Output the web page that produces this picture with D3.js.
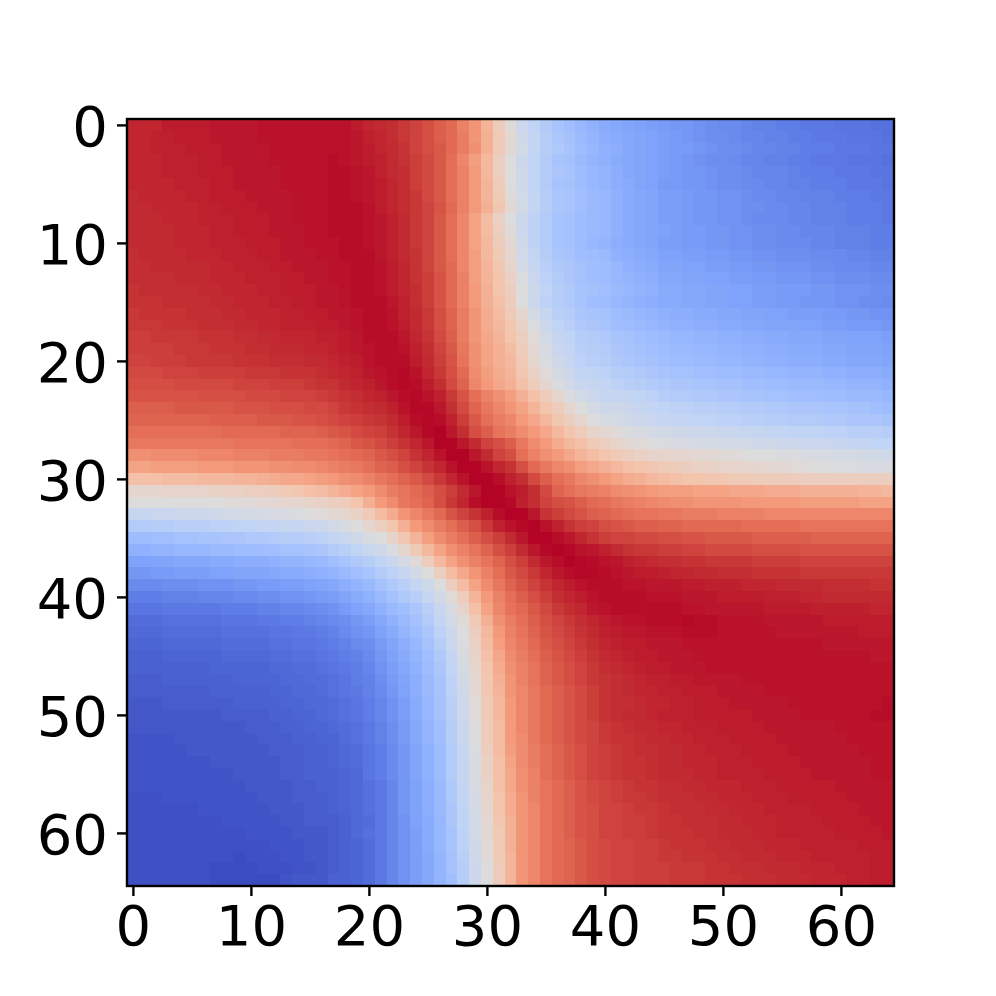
<!DOCTYPE html>
<html>
<head>
<meta charset="utf-8">
<script src="https://cdn.jsdelivr.net/npm/d3@7"></script>
<style>
html,body{margin:0;padding:0;background:#fff;}
svg{display:block;}
text{font-family:"DejaVu Sans";}
</style>
</head>
<body>
<svg id="chart" width="996" height="996"></svg>
<script>
const tickLabels = [0,10,20,30,40,50,60];
const colorDomain = [0,10,20,30,40,50,60,70,80,90,100];
const colorStops = ["#3b4cc0","#5875e1","#7b9ff9","#9ebdff","#c0d4f5","#dddcdc","#f4c5ad","#f49a7b","#e26952","#c53334","#b40426"];
const heatValues = [
[93,93,93,95,95,95,95,96,96,96,96,97,97,97,97,97,97,97,97,95,93,92,91,89,87,85,82,80,75,71,64,57,51,44,40,36,33,31,28,26,24,23,22,21,20,19,18,18,17,16,15,15,14,13,13,12,12,11,11,11,10,10,10,9,9],
[93,93,94,94,95,95,95,96,96,96,96,97,97,97,97,97,97,97,97,96,94,93,91,89,87,85,82,80,76,71,65,58,52,45,41,37,34,32,29,27,25,24,23,22,21,20,19,18,17,16,16,15,14,14,13,13,12,12,11,11,11,10,10,10,9],
[93,93,94,94,94,95,95,95,96,96,96,96,97,97,97,97,97,97,97,96,95,93,92,90,87,85,83,80,76,72,65,58,52,46,41,37,35,33,30,28,26,25,23,22,21,20,19,19,18,17,16,16,15,14,14,13,13,12,12,12,11,11,11,10,10],
[93,93,93,94,94,94,95,95,96,96,96,96,97,97,97,97,97,98,97,96,95,94,92,90,88,86,83,79,74,69,63,56,50,44,40,36,33,32,29,27,26,24,23,22,21,20,19,18,17,16,16,15,14,14,13,13,12,12,11,11,11,10,10,10,9],
[93,93,93,94,94,94,95,95,95,96,96,96,96,97,97,97,97,98,98,97,96,94,92,91,88,86,83,79,75,70,63,56,50,45,40,36,34,33,30,28,27,25,23,22,21,20,19,18,18,17,16,16,15,14,14,14,13,12,12,12,11,11,11,10,10],
[93,93,93,93,94,94,94,95,95,96,96,96,96,97,97,97,97,98,98,97,96,95,93,91,88,86,83,79,75,70,64,57,50,45,40,36,33,32,30,28,27,25,24,22,21,19,19,18,18,17,16,16,15,15,14,14,13,13,12,12,12,11,11,11,10],
[92,93,93,93,93,94,94,95,95,95,96,96,96,96,97,97,97,98,98,97,96,95,93,91,89,86,83,79,75,70,64,58,51,46,41,37,34,33,31,29,28,26,24,23,22,20,20,19,18,18,17,17,16,15,15,14,14,13,13,13,12,12,12,11,11],
[92,92,93,93,93,93,94,94,95,95,95,96,96,96,97,97,97,98,98,98,97,95,93,91,89,87,84,80,75,70,65,59,52,46,41,37,34,33,31,29,28,26,24,23,22,20,20,19,18,18,17,17,16,16,15,15,14,14,13,13,13,12,12,12,11],
[92,92,92,93,93,93,94,94,94,95,95,95,96,96,97,97,97,98,98,98,97,96,94,92,89,87,83,79,74,68,62,55,50,44,39,36,33,32,30,29,28,26,24,23,22,20,20,19,18,18,17,17,16,15,15,15,14,14,13,13,13,12,12,12,11],
[92,92,92,92,93,93,93,94,94,95,95,95,96,96,96,97,97,98,98,98,97,96,94,92,89,87,83,79,74,68,62,56,51,44,39,36,33,32,30,29,28,26,24,23,22,21,20,19,19,18,18,17,17,16,16,15,15,14,14,14,13,13,13,12,12],
[92,92,92,92,93,93,93,94,94,94,95,95,95,96,96,97,97,97,98,98,97,96,94,92,89,87,83,79,74,68,63,57,52,45,39,36,33,32,30,28,27,25,24,23,22,20,20,19,19,18,18,17,17,16,16,15,15,15,14,14,13,13,13,12,12],
[91,92,92,92,92,93,93,93,94,94,94,95,95,96,96,96,97,97,98,98,98,96,94,92,90,87,83,79,74,69,63,58,53,46,41,37,34,33,31,30,29,26,25,24,23,21,21,20,20,19,19,18,18,17,17,16,16,16,15,15,15,14,14,13,13],
[91,91,92,92,92,92,92,93,93,94,94,94,95,95,96,96,96,97,97,98,98,97,95,93,90,87,83,80,74,69,64,59,54,47,42,38,35,34,32,31,30,28,26,25,24,22,22,21,21,20,20,19,19,18,18,17,17,17,16,16,15,15,15,14,14],
[91,91,91,91,92,92,92,93,93,93,94,94,94,95,95,96,96,97,97,98,98,97,95,93,90,88,84,80,75,69,64,60,55,49,43,39,36,34,32,31,30,28,27,26,25,23,23,22,22,21,21,20,20,19,19,18,18,18,17,17,16,16,16,15,15],
[90,91,91,91,91,91,92,92,93,93,93,94,94,95,95,95,96,96,97,98,98,97,95,93,91,88,84,80,75,70,65,60,56,50,44,40,37,35,33,32,31,29,28,27,26,24,24,23,23,22,22,21,21,20,20,19,19,19,18,18,17,17,17,16,16],
[90,90,90,91,91,91,91,92,92,93,93,93,94,94,95,95,96,96,97,98,98,98,96,94,91,88,84,80,75,70,65,61,57,50,44,39,37,35,33,31,30,28,27,26,25,24,24,23,23,22,22,21,21,20,20,19,19,18,18,18,17,17,16,16,15],
[89,90,90,90,90,91,91,91,92,92,93,93,93,94,94,95,95,96,96,97,98,98,97,94,92,89,85,81,76,71,66,62,58,53,47,42,38,37,34,33,32,30,29,28,27,26,25,25,24,24,23,23,22,22,21,21,20,20,20,19,19,18,18,17,17],
[89,89,89,90,90,90,91,91,91,92,92,93,93,94,94,94,95,95,96,97,98,98,97,95,92,89,85,81,76,71,66,63,59,55,49,44,40,38,35,34,33,31,30,29,28,27,26,26,25,25,24,24,23,23,22,22,22,21,21,20,20,19,19,19,18],
[88,88,89,89,89,89,90,90,90,91,91,92,92,93,93,93,94,94,95,96,98,98,98,96,93,90,86,82,76,71,67,64,60,56,51,46,42,40,37,36,35,33,32,31,30,29,28,28,27,27,26,26,25,25,24,24,23,23,23,22,22,21,21,21,20],
[88,88,88,88,89,89,89,90,90,90,91,91,92,92,92,93,93,94,95,96,97,98,98,97,94,91,87,83,77,72,68,65,62,57,52,48,43,41,38,37,36,34,33,32,31,30,29,29,28,28,27,27,26,26,25,25,24,24,24,23,23,22,22,22,21],
[87,87,88,88,88,89,89,89,89,90,90,90,91,91,91,92,92,93,94,95,97,98,98,98,95,92,88,84,78,72,68,65,63,58,53,49,45,42,39,38,37,35,34,33,32,31,30,30,29,29,28,28,27,27,26,26,25,25,25,24,24,23,23,23,22],
[86,86,86,87,87,87,88,88,88,88,89,89,89,90,90,90,91,92,93,94,96,97,98,99,97,93,89,85,80,73,69,66,64,59,55,51,47,44,41,40,39,37,36,35,34,33,32,32,31,31,30,30,29,29,28,28,27,27,27,26,26,25,25,25,24],
[85,85,85,85,86,86,86,86,86,87,87,87,88,88,88,89,90,90,92,93,94,96,98,99,98,95,91,86,81,74,70,67,65,61,57,53,49,46,43,42,41,39,38,37,36,35,34,34,33,33,32,32,31,31,30,30,29,29,29,28,28,27,27,27,26],
[84,84,84,84,84,84,85,85,85,85,86,86,86,87,87,87,88,89,90,91,93,94,96,98,99,97,94,89,84,79,75,72,69,65,61,57,53,49,46,44,42,42,41,40,39,37,36,36,35,35,34,34,33,33,32,32,31,31,31,30,30,29,29,29,28],
[82,82,82,82,83,83,83,83,83,84,84,84,85,85,85,86,86,87,89,90,91,92,94,97,99,99,96,91,86,81,77,74,71,68,64,60,57,53,50,47,45,45,43,42,41,40,39,39,38,38,37,37,36,36,35,35,34,34,34,33,33,32,32,31,30],
[81,81,81,81,81,81,81,82,82,82,82,83,83,83,84,84,85,86,87,88,89,90,92,95,98,99,98,94,88,83,79,76,74,70,67,63,59,56,53,50,48,47,45,44,43,42,41,41,40,40,39,39,38,38,37,37,36,36,36,35,35,34,34,34,33],
[79,79,79,79,79,79,79,79,80,80,80,80,80,81,81,81,82,83,84,86,87,88,90,93,96,99,100,96,91,85,82,78,76,73,70,67,63,60,57,54,52,51,49,48,47,46,45,45,44,44,43,43,42,42,41,41,40,40,40,39,39,38,38,38,37],
[77,77,77,77,77,77,77,77,77,78,78,78,78,78,79,79,79,80,81,83,84,86,88,90,93,96,100,100,96,92,87,85,82,77,73,70,66,63,61,58,56,54,52,51,50,49,48,48,47,47,46,46,46,45,45,44,44,43,43,43,42,41,41,40,40],
[72,72,73,73,73,73,74,74,74,75,75,75,76,76,76,77,77,78,79,80,81,83,85,87,90,93,97,100,100,96,92,87,85,79,75,72,70,67,64,62,60,58,56,55,54,54,53,53,52,52,51,51,50,50,50,49,49,48,48,48,47,47,46,46,45],
[68,68,69,69,69,69,70,70,70,71,71,71,72,72,73,73,74,75,76,77,79,81,82,85,87,90,93,97,100,100,97,93,90,85,80,77,74,72,69,67,65,63,61,60,59,58,57,56,55,55,54,54,53,53,52,52,51,51,50,50,49,49,48,48,48],
[61,61,61,62,62,62,63,63,63,64,64,65,66,67,67,68,69,70,72,73,75,77,79,81,83,86,89,93,97,100,100,98,94,91,86,82,79,77,74,72,70,68,66,65,63,62,61,60,60,59,59,58,58,57,57,57,57,56,56,56,56,56,56,56,56],
[53,53,53,54,54,54,54,55,55,55,56,56,57,58,59,61,62,64,66,68,70,73,76,78,80,82,85,88,92,96,100,100,97,95,91,86,81,79,77,76,75,73,72,71,70,69,69,69,68,68,68,67,67,67,66,66,66,65,65,65,65,65,64,64,63],
[50,50,50,50,50,50,50,50,51,51,51,52,52,53,53,54,55,56,57,60,65,70,73,77,79,81,85,89,93,98,100,100,99,94,91,87,85,84,82,80,79,77,76,75,74,73,72,72,71,71,71,71,70,70,70,70,70,69,69,69,69,69,68,68,68],
[42,42,43,43,44,44,44,45,46,46,47,47,48,48,49,50,51,52,53,55,58,62,66,71,74,77,80,84,87,90,94,98,100,100,96,90,88,86,84,82,81,80,79,78,78,77,77,76,76,76,75,75,75,75,74,74,74,74,74,74,74,74,74,74,74],
[36,36,37,37,38,38,38,39,39,40,40,41,41,42,42,43,44,46,48,50,53,56,60,65,70,73,76,79,82,85,89,94,97,99,100,97,94,90,88,87,85,84,83,82,82,81,81,80,80,80,80,80,79,79,79,79,79,78,78,78,78,78,78,78,78],
[30,30,31,31,32,32,33,33,34,34,35,35,36,37,37,38,39,41,43,45,48,50,54,59,64,69,73,76,79,82,85,88,92,96,100,100,98,96,93,90,88,87,87,86,86,85,85,84,84,83,83,83,83,82,82,82,82,82,81,81,81,81,81,81,81],
[26,26,27,27,28,28,28,29,29,30,30,31,31,32,32,33,34,36,38,40,43,45,49,53,58,63,68,72,75,78,81,85,88,92,96,99,100,99,97,96,94,92,90,89,89,88,88,87,87,86,86,86,86,85,85,85,85,84,84,84,84,84,84,84,84],
[21,21,22,22,23,23,23,24,24,25,25,25,26,27,27,28,29,31,33,35,37,40,43,47,51,57,63,68,72,75,78,81,85,88,92,96,98,100,99,98,97,96,94,93,92,91,91,90,90,89,89,89,89,88,88,88,88,87,87,87,87,87,87,87,87],
[18,18,19,19,20,20,20,21,21,22,22,22,23,24,24,25,26,27,29,31,33,36,39,42,46,50,56,62,67,71,75,79,83,86,89,93,96,98,99,99,98,97,96,95,95,94,93,93,92,92,91,91,91,90,90,90,90,89,89,89,89,89,89,89,89],
[15,15,15,16,16,16,17,17,17,18,18,19,19,20,20,21,22,23,25,27,29,32,35,38,41,45,50,56,62,68,73,77,81,84,87,90,93,95,97,98,98,98,97,97,96,96,96,95,95,94,94,94,93,93,93,92,92,92,92,91,91,91,91,90,90],
[12,12,12,13,13,13,14,14,14,15,15,16,16,17,17,18,19,20,22,24,26,29,32,35,38,42,46,51,57,64,70,75,79,82,85,88,91,93,95,97,98,98,98,98,97,97,97,96,96,96,95,95,95,95,94,94,94,93,93,92,92,92,92,92,92],
[10,10,10,11,11,11,11,11,12,12,12,13,13,14,14,15,16,17,19,21,23,26,29,31,34,38,43,48,54,61,68,74,78,80,83,86,89,91,93,96,97,98,98,98,98,98,98,97,97,96,96,96,96,96,95,95,95,95,94,94,94,94,94,93,93],
[8,8,8,9,9,9,9,9,10,10,10,11,11,12,12,13,14,15,16,18,20,23,26,29,32,36,41,46,51,58,65,72,76,79,82,85,87,89,91,93,95,96,97,97,98,98,98,99,98,98,97,97,97,97,96,96,96,96,96,95,95,95,95,95,95],
[7,7,7,8,8,8,8,8,9,9,9,9,10,10,11,11,12,13,15,17,18,21,24,27,30,34,39,44,50,56,63,70,75,78,81,84,86,88,90,92,94,95,96,96,97,97,97,98,98,98,97,97,97,97,97,96,96,96,96,96,96,96,95,95,95],
[6,6,6,7,7,7,7,7,8,8,8,8,9,9,10,10,11,12,13,15,16,19,22,25,28,32,37,43,49,55,62,69,74,77,80,83,85,87,89,91,93,94,95,95,96,96,96,97,97,97,97,97,97,97,97,97,97,97,97,96,96,96,96,96,96],
[5,5,5,6,6,6,6,6,7,7,7,7,8,8,9,9,10,11,12,13,15,18,21,24,27,31,35,41,48,54,61,67,73,76,79,82,84,86,88,90,92,93,94,95,95,96,96,96,97,97,97,97,97,97,97,97,97,97,97,97,97,97,97,96,96],
[5,5,5,5,5,5,5,6,6,6,6,6,7,7,8,8,9,10,11,12,14,17,20,23,26,30,34,40,47,53,60,66,72,75,78,81,83,85,87,89,91,92,93,94,95,95,96,96,96,97,97,97,97,97,97,97,97,97,97,97,97,97,97,97,97],
[4,4,4,5,5,5,5,5,5,6,6,6,6,7,7,8,8,9,10,12,13,16,19,22,25,29,33,39,46,52,59,65,71,75,78,81,83,85,87,89,90,91,92,93,94,94,95,95,96,96,96,96,97,97,97,97,97,97,97,97,97,97,97,97,97],
[4,4,4,4,4,4,4,5,5,5,5,5,6,6,7,7,8,9,10,11,13,15,18,21,25,29,33,39,45,52,59,64,71,74,77,80,82,84,86,88,90,91,92,93,93,94,94,95,95,95,96,96,96,96,97,97,97,97,97,97,97,97,97,97,97],
[3,3,3,4,4,4,4,4,4,5,5,5,5,6,6,7,7,8,9,10,12,14,17,20,24,28,32,38,44,51,58,63,70,74,77,80,82,84,86,88,90,91,91,92,93,93,94,94,95,95,95,96,96,96,96,96,97,97,97,97,97,97,97,97,98],
[3,3,3,3,3,3,3,3,4,4,4,4,5,5,6,6,7,8,9,10,12,14,17,20,24,28,32,38,44,51,58,63,70,74,77,80,82,84,86,88,90,91,92,92,93,94,94,94,95,95,95,95,95,96,96,96,96,97,97,97,97,97,97,98,98],
[3,3,3,3,3,3,3,3,3,3,4,4,4,5,5,6,6,7,8,9,11,13,16,19,23,27,31,37,43,50,57,62,70,74,77,80,82,84,86,87,89,90,91,92,92,93,93,94,94,94,95,95,95,95,96,96,96,96,96,96,97,97,97,97,97],
[2,2,2,2,3,3,3,3,3,3,3,4,4,4,5,5,6,6,8,9,11,13,16,19,23,27,31,37,43,50,57,62,70,73,77,80,82,84,86,87,89,90,90,91,92,92,93,93,94,94,94,95,95,95,95,96,96,96,96,96,96,97,97,97,97],
[2,2,2,2,2,3,3,3,3,3,3,3,4,4,4,5,5,6,7,8,10,12,15,18,22,26,30,36,42,49,56,62,69,73,76,79,81,83,85,87,88,89,90,91,91,92,92,93,93,94,94,94,95,95,95,95,96,96,96,96,96,96,97,97,97],
[2,2,2,2,2,2,2,3,3,3,3,3,3,4,4,5,5,6,7,8,10,12,15,18,22,26,30,36,42,48,55,61,68,73,76,79,81,83,85,87,88,89,90,90,91,92,92,93,93,93,94,94,94,95,95,95,95,96,96,96,96,96,96,97,97],
[2,2,2,2,2,2,2,2,2,3,3,3,3,4,4,5,5,5,6,7,10,12,15,18,22,26,30,36,42,48,55,61,67,72,75,79,81,83,85,87,88,89,90,90,91,92,92,92,93,93,94,94,94,94,95,95,95,95,96,96,96,96,96,97,97],
[2,2,2,2,2,2,2,2,2,2,3,3,3,3,4,4,5,5,6,7,9,11,14,18,21,25,29,35,41,48,54,61,67,72,75,78,80,82,84,86,87,88,89,90,90,91,91,92,92,93,93,93,94,94,94,95,95,95,95,95,96,96,96,96,96],
[1,1,1,2,2,2,2,2,2,2,2,3,3,3,4,4,4,5,6,7,9,11,14,18,21,25,29,35,41,47,54,60,66,71,75,78,80,82,84,86,87,88,89,89,90,91,91,91,92,92,93,93,93,94,94,94,95,95,95,95,95,96,96,96,96],
[1,1,1,1,1,1,2,2,2,2,2,2,3,3,3,4,4,5,6,7,9,11,14,18,21,25,29,34,40,47,53,60,66,71,74,78,80,82,84,85,87,87,88,89,89,90,91,91,91,92,92,93,93,93,94,94,94,94,95,95,95,95,96,96,96],
[1,1,1,1,1,1,1,1,2,2,2,2,2,3,3,4,4,4,5,7,8,11,14,17,21,24,28,34,40,46,52,59,65,71,74,78,80,82,84,85,87,87,88,88,89,90,90,91,91,91,92,92,93,93,93,94,94,94,94,95,95,95,95,96,96],
[1,1,1,1,1,1,1,1,1,1,2,2,2,2,3,3,3,4,5,7,9,11,14,17,20,24,28,33,39,46,52,58,65,71,74,78,80,82,84,85,87,87,88,88,89,90,90,90,91,91,92,92,92,93,93,94,94,94,94,94,95,95,95,95,96],
[1,1,1,1,1,1,1,1,1,1,1,1,2,2,2,3,3,4,5,6,8,11,14,17,20,24,28,33,39,45,51,58,65,71,74,78,80,81,83,85,86,87,87,88,88,89,90,90,90,91,91,92,92,92,93,93,93,94,94,94,94,94,95,95,95],
[1,1,1,1,1,1,1,1,1,0,1,1,1,2,2,3,3,4,5,6,8,11,14,17,20,23,27,32,38,45,51,58,64,71,74,78,80,81,83,85,86,87,87,88,88,89,89,90,90,90,91,91,92,92,92,93,93,93,94,94,94,94,94,95,95],
[1,1,1,1,1,1,1,0,0,0,0,1,1,1,2,2,3,4,5,6,8,11,14,17,20,23,27,32,37,44,50,57,64,71,74,78,80,81,83,85,86,87,87,88,88,88,89,89,89,90,90,91,91,91,92,92,92,93,93,93,94,94,94,95,95],
[1,1,1,1,1,1,1,0,0,0,0,0,0,2,3,3,3,5,5,6,8,11,14,17,20,23,27,31,37,44,50,57,64,71,74,78,80,81,83,85,86,87,87,88,88,88,89,89,89,90,90,90,91,91,91,92,92,92,93,93,93,94,94,95,95]
];

const svg = d3.select("#chart");
const plotLeft = 127, plotRight = 894, plotTop = 119, plotBottom = 886;
const x = d3.scaleLinear().domain([-0.5, 64.5]).range([plotLeft, plotRight]);
const y = d3.scaleLinear().domain([-0.5, 64.5]).range([plotTop, plotBottom]);
const color = d3.scaleLinear().domain(colorDomain).range(colorStops).interpolate(d3.interpolateRgb);

const cells = heatValues.flatMap((row, r) => row.map((v, c) => ({r, c, v})));
svg.append("g").attr("shape-rendering", "crispEdges")
  .selectAll("rect").data(cells).join("rect")
  .attr("x", d => x(d.c - 0.5))
  .attr("y", d => y(d.r - 0.5))
  .attr("width", d => x(d.c + 0.5) - x(d.c - 0.5) + 0.5)
  .attr("height", d => y(d.r + 0.5) - y(d.r - 0.5) + 0.5)
  .attr("fill", d => color(d.v));

const xAxis = d3.axisBottom(x).tickValues(tickLabels).tickSize(10).tickPadding(9).tickFormat(d3.format("d"));
const yAxis = d3.axisLeft(y).tickValues(tickLabels).tickSize(10).tickPadding(9).tickFormat(d3.format("d"));
const gx = svg.append("g").attr("transform", `translate(0,${plotBottom})`).call(xAxis);
const gy = svg.append("g").attr("transform", `translate(${plotLeft},0)`).call(yAxis);
[gx, gy].forEach(g => {
  g.select(".domain").remove();
  g.selectAll("line").attr("stroke", "#000").attr("stroke-width", 2.4);
  g.selectAll("text").attr("fill", "#000").style("font-size", "56px").style("font-family", '"DejaVu Sans"');
});
gy.selectAll("text").attr("transform", "translate(0,3)");
svg.append("rect").attr("x", plotLeft).attr("y", plotTop)
  .attr("width", plotRight - plotLeft).attr("height", plotBottom - plotTop)
  .attr("fill", "none").attr("stroke", "#000").attr("stroke-width", 2.4);
</script>
</body>
</html>
